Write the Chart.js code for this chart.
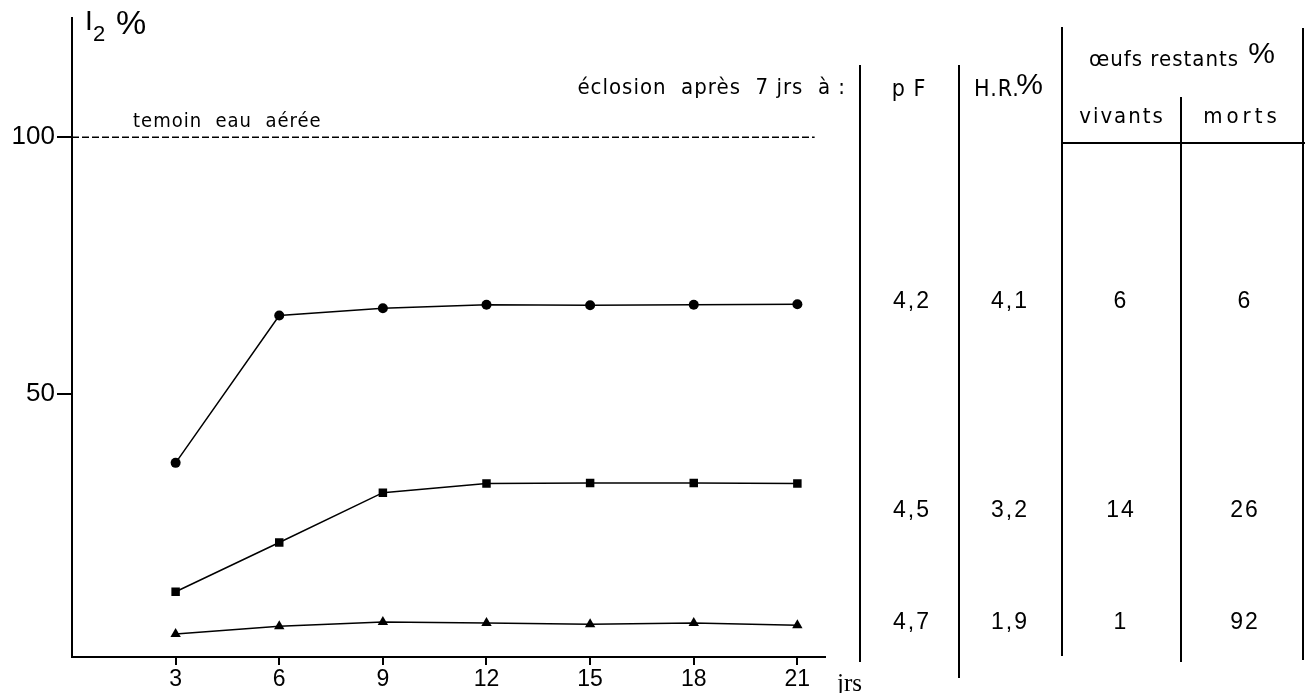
<!DOCTYPE html>
<html>
<head>
<meta charset="utf-8">
<script src="https://cdn.jsdelivr.net/npm/chart.js@4"></script>
<style>
  html, body { margin: 0; padding: 0; background: #fff; }
  #wrap { width: 1308px; height: 693px; }
</style>
</head>
<body>
<div id="wrap"><canvas id="graphe"></canvas></div>
<script>
// Données
const jours = [3, 6, 9, 12, 15, 18, 21];
const serieRond = [36.6, 65.3, 66.7, 67.4, 67.3, 67.4, 67.5];
const serieCarre = [11.5, 21.1, 30.8, 32.6, 32.7, 32.7, 32.6];
const serieTriangle = [3.3, 4.8, 5.6, 5.4, 5.2, 5.4, 5.0];
const temoinX = [0, 21.5];
const temoinY = [100, 100];
const graduationsY = [50, 100];

// Tableau de droite
const colPF = ['4,2', '4,5', '4,7'];
const colHR = ['4,1', '3,2', '1,9'];
const colVivants = ['6', '14', '1'];
const colMorts = ['6', '26', '92'];

const narrow = '"Liberation Sans Narrow", "DejaVu Sans Condensed", sans-serif';
const sans = '"Liberation Sans", Arial, sans-serif';

function points(xs, ys) {
    return xs.map((x, i) => ({ x: x, y: ys[i] }));
}

function serie(ys, style, r) {
    return {
        data: points(jours, ys),
        borderColor: '#000',
        backgroundColor: '#000',
        borderWidth: 1.5,
        pointStyle: style,
        pointRadius: r,
        pointBorderWidth: 0,
        tension: 0
    };
}

// textes et tableau dessinés par dessus
const decor = {
    id: 'decor',
    afterDraw(chart) {
        const ctx = chart.ctx;
        ctx.save();
        ctx.fillStyle = '#000';
        ctx.strokeStyle = '#000';
        ctx.textBaseline = 'middle';

        // titre axe y
        ctx.textAlign = 'left';
        ctx.font = '28px ' + sans;
        ctx.fillText('I', 85, 22);
        ctx.font = '22px ' + sans;
        ctx.fillText('2', 93, 35);
        ctx.font = '34px ' + sans;
        ctx.fillText('%', 116, 25);

        ctx.letterSpacing = '1px';
        ctx.font = '20px ' + narrow;
        ctx.fillText('temoin  eau  aérée', 133, 122);

        ctx.font = '22px ' + narrow;
        ctx.textAlign = 'right';
        ctx.fillText('éclosion  après  7 jrs  à :', 846, 88);

        ctx.letterSpacing = '0px';
        ctx.textAlign = 'left';
        ctx.font = '25px "Liberation Serif", serif';
        ctx.fillText('jrs', 837, 684);

        // en-têtes
        ctx.letterSpacing = '1px';
        ctx.textAlign = 'center';
        ctx.font = '23px ' + narrow;
        ctx.fillText('p F', 909, 90);
        ctx.fillText('H.R.', 997, 90);
        ctx.font = '30px ' + sans;
        ctx.fillText('%', 1030, 86);
        ctx.font = '22px ' + narrow;
        ctx.fillText('œufs restants', 1164, 60);
        ctx.font = '30px ' + sans;
        ctx.fillText('%', 1262, 55);
        ctx.letterSpacing = '2px';
        ctx.font = '22px ' + narrow;
        ctx.fillText('vivants', 1122, 117);
        ctx.letterSpacing = '4px';
        ctx.fillText('morts', 1242, 117);

        // valeurs
        const lignesY = [302, 511, 623];
        const colonnes = [[colPF, 912], [colHR, 1010], [colVivants, 1121], [colMorts, 1245]];
        ctx.letterSpacing = '2px';
        ctx.font = '23px ' + sans;
        colonnes.forEach(([col, x]) => {
            col.forEach((txt, i) => {
                ctx.fillText(txt, x, lignesY[i]);
            });
        });
        ctx.letterSpacing = '0px';

        // traits du tableau
        ctx.lineWidth = 2;
        const traits = [[860, 65, 662], [959, 65, 678], [1062, 27, 656], [1181, 97, 662], [1303, 28, 660]];
        ctx.beginPath();
        traits.forEach(([x, y1, y2]) => {
            ctx.moveTo(x, y1);
            ctx.lineTo(x, y2);
        });
        ctx.moveTo(1062, 143);
        ctx.lineTo(1305, 143);
        ctx.stroke();
        ctx.restore();
    }
};

new Chart(document.getElementById('graphe'), {
    type: 'line',
    data: {
        datasets: [
            {
                data: points(temoinX, temoinY),
                borderColor: '#000',
                borderWidth: 1.5,
                borderDash: [7, 3],
                pointRadius: 0
            },
            serie(serieRond, 'circle', 5),
            serie(serieCarre, 'rect', 6),
            serie(serieTriangle, 'triangle', 6)
        ]
    },
    options: {
        responsive: true,
        maintainAspectRatio: false,
        animation: false,
        layout: { padding: { top: 15, right: 483, left: 0, bottom: 0 } },
        plugins: {
            legend: { display: false },
            tooltip: { enabled: false }
        },
        scales: {
            x: {
                type: 'linear',
                min: 0,
                max: 21.8,
                afterBuildTicks: (s) => { s.ticks = jours.map(v => ({ value: v })); },
                afterFit: (s) => { s.height = 36; },
                grid: { drawOnChartArea: false, drawTicks: true, tickLength: 8, color: '#000', lineWidth: 2 },
                border: { display: true, color: '#000', width: 2 },
                ticks: { color: '#000', font: { family: sans, size: 23 }, padding: 1, maxRotation: 0 }
            },
            y: {
                min: -1.2,
                max: 123.3,
                afterBuildTicks: (s) => { s.ticks = graduationsY.map(v => ({ value: v })); },
                afterFit: (s) => { s.width = 72; },
                grid: { drawOnChartArea: false, drawTicks: true, tickLength: 15, color: '#000', lineWidth: 2 },
                border: { display: true, color: '#000', width: 2 },
                ticks: { color: '#000', font: { family: sans, size: 26 }, padding: 2 }
            }
        }
    },
    plugins: [decor]
});
</script>
</body>
</html>
